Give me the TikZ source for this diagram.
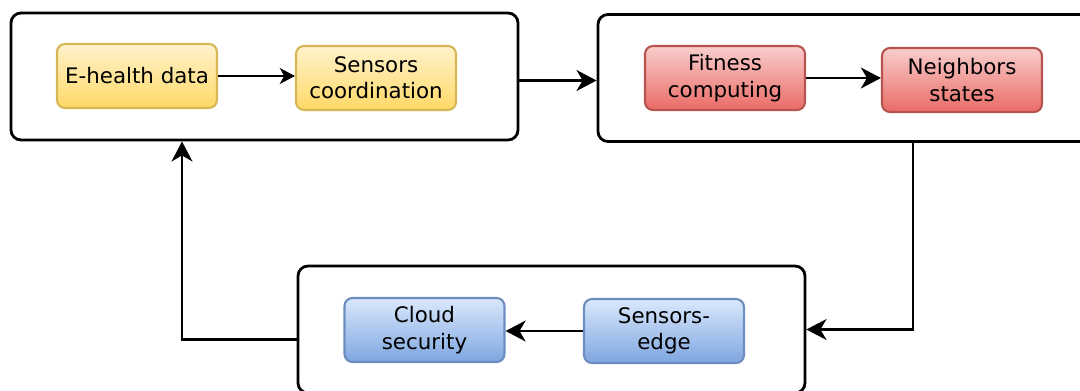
\documentclass[tikz,border=0pt]{standalone}
\usepackage{fontspec}
\setmainfont{DejaVu Sans}
\usetikzlibrary{arrows.meta, positioning, calc}

\definecolor{yelTop}{HTML}{FFF2CC}
\definecolor{yelBot}{HTML}{FFD966}
\definecolor{yelLine}{HTML}{D6B656}
\definecolor{redTop}{HTML}{F8CECC}
\definecolor{redBot}{HTML}{EA6B66}
\definecolor{redLine}{HTML}{B85450}
\definecolor{bluTop}{HTML}{DAE8FC}
\definecolor{bluBot}{HTML}{7EA6E0}
\definecolor{bluLine}{HTML}{6C8EBF}

\begin{document}
\begin{tikzpicture}[
    stage/.style={draw=black, line width=2pt, rounded corners=0.25cm, minimum width=12.675cm, minimum height=3.175cm},
    task/.style={rounded corners=0.2cm, line width=1.5pt, minimum width=4cm, minimum height=1.6cm, align=center, inner sep=1pt, font=\fontsize{15.2}{18.8}\selectfont},
    yellowtask/.style={task, draw=yelLine, top color=yelTop, bottom color=yelBot},
    redtask/.style={task, draw=redLine, top color=redTop, bottom color=redBot},
    bluetask/.style={task, draw=bluLine, top color=bluTop, bottom color=bluBot},
    arrow/.style={-{Stealth[length=0.5cm, width=0.52cm, inset=0.15cm]}, line width=2pt},
    thinarrow/.style={-{Stealth[length=0.38cm, width=0.4cm, inset=0.11cm]}, line width=1.2pt}
]
\useasboundingbox (0,0) rectangle (27,9.75);
\clip (0,0) rectangle (27,9.75);

% Stages
\node[stage] (collect) at (6.6125, 7.8375) {};
\node[stage] (evaluate) at (21.2875, 7.8) {};
\node[stage] (offload) at (13.7875, 1.5125) {};

% Tasks
\node[yellowtask] (ehealth) at (3.425, 7.85) {E-health data};
\node[yellowtask] (coord) at (9.4, 7.8) {Sensors\\coordination};
\node[redtask] (fitness) at (18.125, 7.8) {Fitness\\computing};
\node[redtask] (neigh) at (24.05, 7.75) {Neighbors\\states};
\node[bluetask] (cloud) at (10.6125, 1.5) {Cloud\\security};
\node[bluetask] (edge) at (16.6, 1.475) {Sensors-\\edge};

% Inside the stages
\draw[thinarrow] (ehealth) -- (ehealth -| coord.west);
\draw[arrow] (fitness) -- (fitness -| neigh.west);
\draw[arrow] (edge) -- (edge -| cloud.east);

% Between the stages
\draw[arrow] ([yshift=-0.1cm]collect.east) -- ([yshift=-0.1cm]collect.east -| evaluate.west);
\draw[arrow] ([xshift=1.5375cm]evaluate.south) |- (offload.east);
\draw[arrow] ([yshift=-0.26cm]offload.west) -| ([xshift=-2.0625cm]collect.south);

\end{tikzpicture}
\end{document}
